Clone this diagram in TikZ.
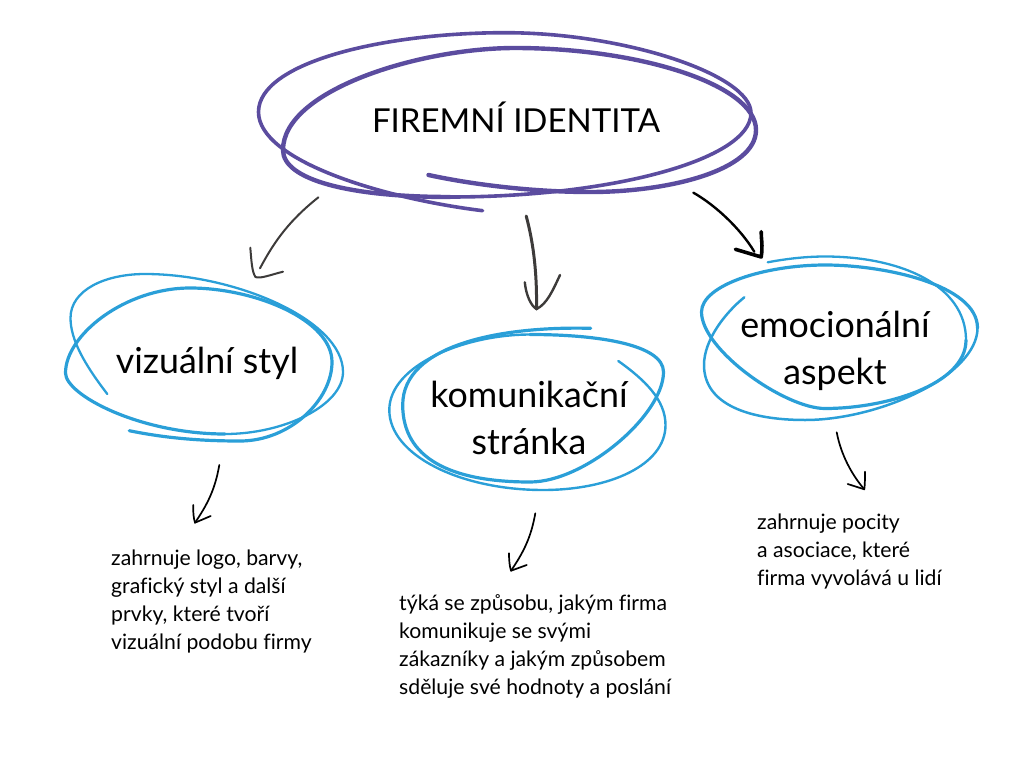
\documentclass[tikz,border=0pt]{standalone}
\usepackage{fontspec}
\setmainfont{Lato}[Ligatures=CommonOff]
\definecolor{scribblepurple}{HTML}{5B4C9F}
\definecolor{scribbleblue}{HTML}{2A9FD8}
\definecolor{arrowgray}{HTML}{3D3B3A}
\tikzset{
  titletext/.style={font=\fontsize{33}{38}\selectfont,text=black,inner sep=0pt},
  labeltext/.style={font=\fontsize{35.8}{47}\selectfont,text=black,align=center,inner sep=0pt},
  smalltext/.style={font=\fontsize{21.2}{27.9}\selectfont,text=black,align=left,anchor=north west,inner sep=0pt},
  scribble/.style={line cap=round,line join=round},
  pen/.style={line cap=round,line join=round,draw=black},
}
\begin{document}
\begin{tikzpicture}[x=1pt,y=-1pt]
\useasboundingbox (0,0) rectangle (1024,768);

\node[titletext] (title) at (516,117) {FIREMNÍ IDENTITA};
\node[labeltext] (visual) at (207,363) {vizuální styl};
\node[labeltext] (speech) at (529,418) {komunikační\\stránka};
\node[labeltext] (feeling) at (835,351) {emocionální\\aspekt};

\node[smalltext] (visualnote) at (111,550) {zahrnuje logo, barvy,\\grafický styl a další\\prvky, které tvoří\\vizuální podobu firmy};
\node[smalltext] (speechnote) at (399,594.5) {týká se způsobu, jakým firma\\komunikuje se svými\\zákazníky a jakým způsobem\\sděluje své hodnoty a poslání};
\node[smalltext] (feelingnote) at (757,514) {zahrnuje pocity\\a asociace, které\\firma vyvolává u lidí};

% purple scribble
\draw[scribble,scribblepurple,line width=3.6pt] (482.6,210.7) .. controls (380,198) and (258.5,160) .. (258.5,112)
  .. controls (258.5,62) and (385,32.7) .. (505,32.7)
  .. controls (625,32.7) and (751,75) .. (751,113)
  .. controls (751,160) and (610,197) .. (450,197);
\draw[scribble,scribblepurple,line width=4.4pt] (450,197) .. controls (350,197) and (283,180) .. (283,150)
  .. controls (283,90) and (420,48) .. (515,48)
  .. controls (640,48) and (756,85) .. (756,130)
  .. controls (756,170) and (670,192) .. (590,192)
  .. controls (530,192) and (470,184) .. (428.5,175);

% blue scribbles
\draw[scribble,scribbleblue,line width=2.3pt] (107.3,394) .. controls (85,365) and (70.5,340) .. (70.5,318)
  .. controls (70.5,290) and (105,274) .. (145,274)
  .. controls (235,274) and (343,320) .. (343,372)
  .. controls (343,405) and (285,434) .. (225,434);
\draw[scribble,scribbleblue,line width=3.2pt] (225,434) .. controls (140,434) and (65.5,395) .. (65.5,373)
  .. controls (65.5,335) and (125,288) .. (190,288)
  .. controls (255,288) and (332,320) .. (332,362)
  .. controls (332,400) and (290,441) .. (240,441)
  .. controls (200,441) and (165,438) .. (129.3,430.7);

\draw[scribble,scribbleblue,line width=3.2pt] (590.7,328.3) .. controls (500,326) and (402.7,345) .. (402.7,405)
  .. controls (402.7,458) and (450,482) .. (530,482)
  .. controls (585,482) and (663.5,415) .. (663.5,372)
  .. controls (663.5,345) and (600,334.5) .. (530,334.5);
\draw[scribble,scribbleblue,line width=2.4pt] (530,334.5) .. controls (465,334.5) and (389.3,365) .. (389.3,410)
  .. controls (389.3,455) and (460,490) .. (543,490)
  .. controls (610,490) and (665.5,465) .. (665.5,425)
  .. controls (665.5,400) and (645,380) .. (618.3,361);

\draw[scribble,scribbleblue,line width=2.3pt] (767.7,262.3) .. controls (785,259) and (805,256.5) .. (825,256.5)
  .. controls (900,256.5) and (966,285) .. (966,340);
\draw[scribble,scribbleblue,line width=3.2pt] (966,340) .. controls (966,385) and (885,408.5) .. (825,408.5)
  .. controls (785,408.5) and (701.5,350) .. (701.5,312)
  .. controls (701.5,285) and (765,265) .. (825,265)
  .. controls (885,265) and (977.5,285) .. (977.5,328);
\draw[scribble,scribbleblue,line width=2.5pt] (977.5,328) .. controls (977.5,375) and (880,420) .. (805,420)
  .. controls (750,420) and (704,405) .. (704,365)
  .. controls (704,340) and (725,313) .. (744.3,297.3);

% arrows between the shapes
\coordinate (titleleft) at (318.4,197.3);
\coordinate (visualtip) at (260,268.3);
\draw[pen,arrowgray,line width=2pt] (titleleft) .. controls (290,220) and (275,240) .. (visualtip);
\draw[pen,arrowgray,line width=2pt] (250.3,247.7) .. controls (251.5,262) and (252,272) .. (255.5,277) .. controls (260,279) and (270,275) .. (283,271.7);

\coordinate (titlemid) at (526.2,216);
\coordinate (speechtip) at (536.5,309);
\draw[pen,arrowgray,line width=3pt] (titlemid) .. controls (534,245) and (537,275) .. (speechtip);
\draw[pen,arrowgray,line width=2.4pt] (524.8,282.3) .. controls (526,295) and (531,306) .. (speechtip) .. controls (547,304) and (553,290) .. (560,275);

\coordinate (titleright) at (693.4,192.7);
\coordinate (feelingtip) at (761.2,257);
\draw[pen,line width=2.4pt] (titleright) .. controls (715,205) and (740,228) .. (754.3,251.7);
\draw[pen,line width=3.6pt] (735.4,249.3) -- (feelingtip) .. controls (763,245) and (761,238) .. (761.2,231.7);

\coordinate (visualfoot) at (219.3,465);
\coordinate (visualnotetip) at (195,522.7);
\draw[pen,line width=1.7pt] (visualfoot) .. controls (215,490) and (207,505) .. (visualnotetip);
\draw[pen,line width=1.7pt] (193.3,505) .. controls (193,512) and (193.5,518) .. (visualnotetip) -- (210.7,516);

\coordinate (speechfoot) at (535.3,513.3);
\coordinate (speechnotetip) at (511,570.7);
\draw[pen,line width=1.7pt] (speechfoot) .. controls (531,538) and (523,553) .. (speechnotetip);
\draw[pen,line width=1.7pt] (509,553.3) .. controls (509,560) and (509.5,566) .. (speechnotetip) -- (526.7,565);

\coordinate (feelingfoot) at (836.7,432.3);
\coordinate (feelingnotetip) at (864.3,489.3);
\draw[pen,line width=1.7pt] (feelingfoot) .. controls (841,455) and (852,475) .. (feelingnotetip);
\draw[pen,line width=1.7pt] (847.7,484) -- (feelingnotetip) .. controls (865,484) and (865,477) .. (865,471.7);

\end{tikzpicture}
\end{document}
